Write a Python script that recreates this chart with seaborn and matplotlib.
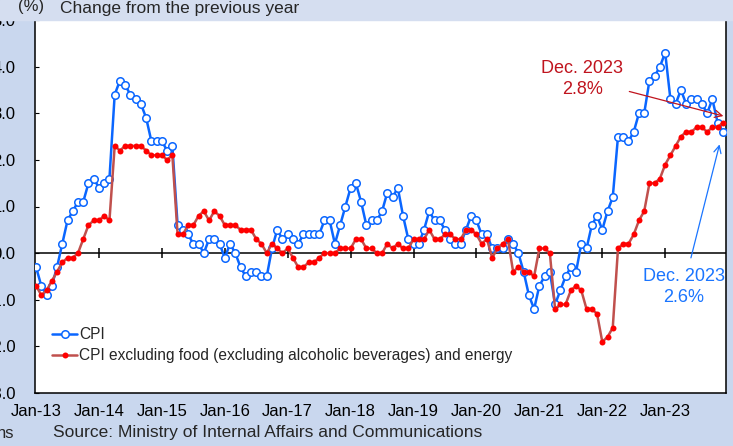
import numpy as np
import pandas as pd
import seaborn as sns
import matplotlib.pyplot as plt

# monthly y/y change (%), Jan 2013 - Dec 2023
cpi = [
    -0.3, -0.7, -0.9, -0.7, -0.3, 0.2, 0.7, 0.9, 1.1, 1.1, 1.5, 1.6,  # 2013
    1.4, 1.5, 1.6, 3.4, 3.7, 3.6, 3.4, 3.3, 3.2, 2.9, 2.4, 2.4,  # 2014
    2.4, 2.2, 2.3, 0.6, 0.5, 0.4, 0.2, 0.2, 0.0, 0.3, 0.3, 0.2,  # 2015
    -0.1, 0.2, 0.0, -0.3, -0.5, -0.4, -0.4, -0.5, -0.5, 0.1, 0.5, 0.3,  # 2016
    0.4, 0.3, 0.2, 0.4, 0.4, 0.4, 0.4, 0.7, 0.7, 0.2, 0.6, 1.0,  # 2017
    1.4, 1.5, 1.1, 0.6, 0.7, 0.7, 0.9, 1.3, 1.2, 1.4, 0.8, 0.3,  # 2018
    0.2, 0.2, 0.5, 0.9, 0.7, 0.7, 0.5, 0.3, 0.2, 0.2, 0.5, 0.8,  # 2019
    0.7, 0.4, 0.4, 0.1, 0.1, 0.1, 0.3, 0.2, 0.0, -0.4, -0.9, -1.2,  # 2020
    -0.7, -0.5, -0.4, -1.1, -0.8, -0.5, -0.3, -0.4, 0.2, 0.1, 0.6, 0.8,  # 2021
    0.5, 0.9, 1.2, 2.5, 2.5, 2.4, 2.6, 3.0, 3.0, 3.7, 3.8, 4.0,  # 2022
    4.3, 3.3, 3.2, 3.5, 3.2, 3.3, 3.3, 3.2, 3.0, 3.3, 2.8, 2.6,  # 2023
]
core = [
    -0.7, -0.9, -0.8, -0.6, -0.4, -0.2, -0.1, -0.1, 0.0, 0.3, 0.6, 0.7,  # 2013
    0.7, 0.8, 0.7, 2.3, 2.2, 2.3, 2.3, 2.3, 2.3, 2.2, 2.1, 2.1,  # 2014
    2.1, 2.0, 2.1, 0.4, 0.4, 0.6, 0.6, 0.8, 0.9, 0.7, 0.9, 0.8,  # 2015
    0.6, 0.6, 0.6, 0.5, 0.5, 0.5, 0.3, 0.2, 0.0, 0.2, 0.1, 0.0,  # 2016
    0.1, -0.1, -0.3, -0.3, -0.2, -0.2, -0.1, 0.0, 0.0, 0.0, 0.1, 0.1,  # 2017
    0.1, 0.3, 0.3, 0.1, 0.1, 0.0, 0.0, 0.2, 0.1, 0.2, 0.1, 0.1,  # 2018
    0.3, 0.3, 0.3, 0.5, 0.3, 0.3, 0.4, 0.4, 0.3, 0.3, 0.5, 0.5,  # 2019
    0.4, 0.2, 0.3, -0.1, 0.1, 0.2, 0.3, -0.4, -0.3, -0.4, -0.4, -0.5,  # 2020
    0.1, 0.1, 0.0, -1.2, -1.1, -1.1, -0.8, -0.7, -0.8, -1.2, -1.2, -1.3,  # 2021
    -1.9, -1.8, -1.6, 0.1, 0.2, 0.2, 0.4, 0.7, 0.9, 1.5, 1.5, 1.6,  # 2022
    1.9, 2.1, 2.3, 2.5, 2.6, 2.6, 2.7, 2.7, 2.6, 2.7, 2.7, 2.8,  # 2023
]
year_labels = ['Jan-13', 'Jan-14', 'Jan-15', 'Jan-16', 'Jan-17', 'Jan-18',
               'Jan-19', 'Jan-20', 'Jan-21', 'Jan-22', 'Jan-23']
y_ticks = [-3.0, -2.0, -1.0, 0.0, 1.0, 2.0, 3.0, 4.0, 5.0]

months = np.arange(len(cpi))
df = pd.DataFrame({'m': months, 'cpi': cpi, 'core': core})
year_pos = np.arange(len(year_labels)) * 12

sns.set_style('white')
plt.rcParams['font.family'] = ['Liberation Sans', 'DejaVu Sans']

bg = '#C9D7EE'
blue = '#0A66FF'
fig = plt.figure(figsize=(7.33, 4.46), dpi=100, facecolor=bg)
fig.patches.append(plt.Rectangle((0, 0.955), 1, 0.045, transform=fig.transFigure,
                                 color='#D5DEF0', zorder=0))
ax = fig.add_axes([35 / 733, 1 - 393 / 446, 691 / 733, 373 / 446])
ax.set_facecolor('white')

sns.lineplot(data=df, x='m', y='cpi', ax=ax, color=blue, lw=1.8, marker='o', ms=5.4,
             markerfacecolor='white', markeredgecolor=blue, markeredgewidth=1.1,
             label='CPI', zorder=3)
sns.lineplot(data=df, x='m', y='core', ax=ax, color='#C0504D', lw=1.8, marker='o', ms=4.3,
             markerfacecolor='#FF0000', markeredgecolor='#FF0000', markeredgewidth=0,
             label='CPI excluding food (excluding alcoholic beverages) and energy', zorder=4)

ax.axhline(0, color='black', lw=1.1, zorder=2)
ax.plot(year_pos[1:], np.zeros(len(year_pos) - 1), linestyle='none', marker='|',
        ms=7, mew=1.1, color='black', zorder=2)

ax.set_xlim(-0.2, 131.6)
ax.set_ylim(-3, 5)
ax.set_xticks(year_pos)
ax.set_xticklabels(year_labels)
ax.set_yticks(y_ticks)
ax.set_yticklabels([f'{v:.1f}' for v in y_ticks])
ax.tick_params(axis='x', length=0, pad=8, labelsize=12, colors='black')
ax.tick_params(axis='y', direction='in', length=3, pad=14, labelsize=12, colors='black', left=True)
ax.set_xlabel('')
ax.set_ylabel('')
for s in ax.spines.values():
    s.set_visible(True)
    s.set_color('black')
    s.set_linewidth(1.1)

leg = ax.legend(loc='lower left', bbox_to_anchor=(0.009, 0.05), frameon=False, fontsize=11.2,
                handlelength=1.6, handletextpad=0.15, labelspacing=0.4, borderaxespad=0.3)

ax.annotate('Dec. 2023\n2.8%', xy=(131.1, 2.94), xytext=(104.2, 3.73), ha='center', va='center',
            fontsize=13, color='#C0141E', linespacing=1.35,
            arrowprops=dict(arrowstyle='->', color='#C0141E', lw=0.9, shrinkA=2, shrinkB=0))
ax.annotate('Dec. 2023\n2.6%', xy=(130.5, 2.39), xytext=(123.5, -0.73), ha='center', va='center',
            fontsize=13, color='#1A75FF', linespacing=1.35,
            arrowprops=dict(arrowstyle='->', color='#1A75FF', lw=0.9, shrinkA=5, shrinkB=2))

fig.text(18 / 733, 1 - 7 / 446, '(%)', fontsize=12, ha='left', va='center')
fig.text(60 / 733, 1 - 9 / 446, 'Change from the previous year', fontsize=12.5, ha='left', va='center')
fig.text(53 / 733, 1 - 432 / 446, 'Source: Ministry of Internal Affairs and Communications',
         fontsize=12.5, ha='left', va='center')
fig.text(-3 / 733, 1 - 434 / 446, 'ns', fontsize=12, ha='left', va='center')

fig.savefig('out.png', dpi=100, facecolor=bg)
